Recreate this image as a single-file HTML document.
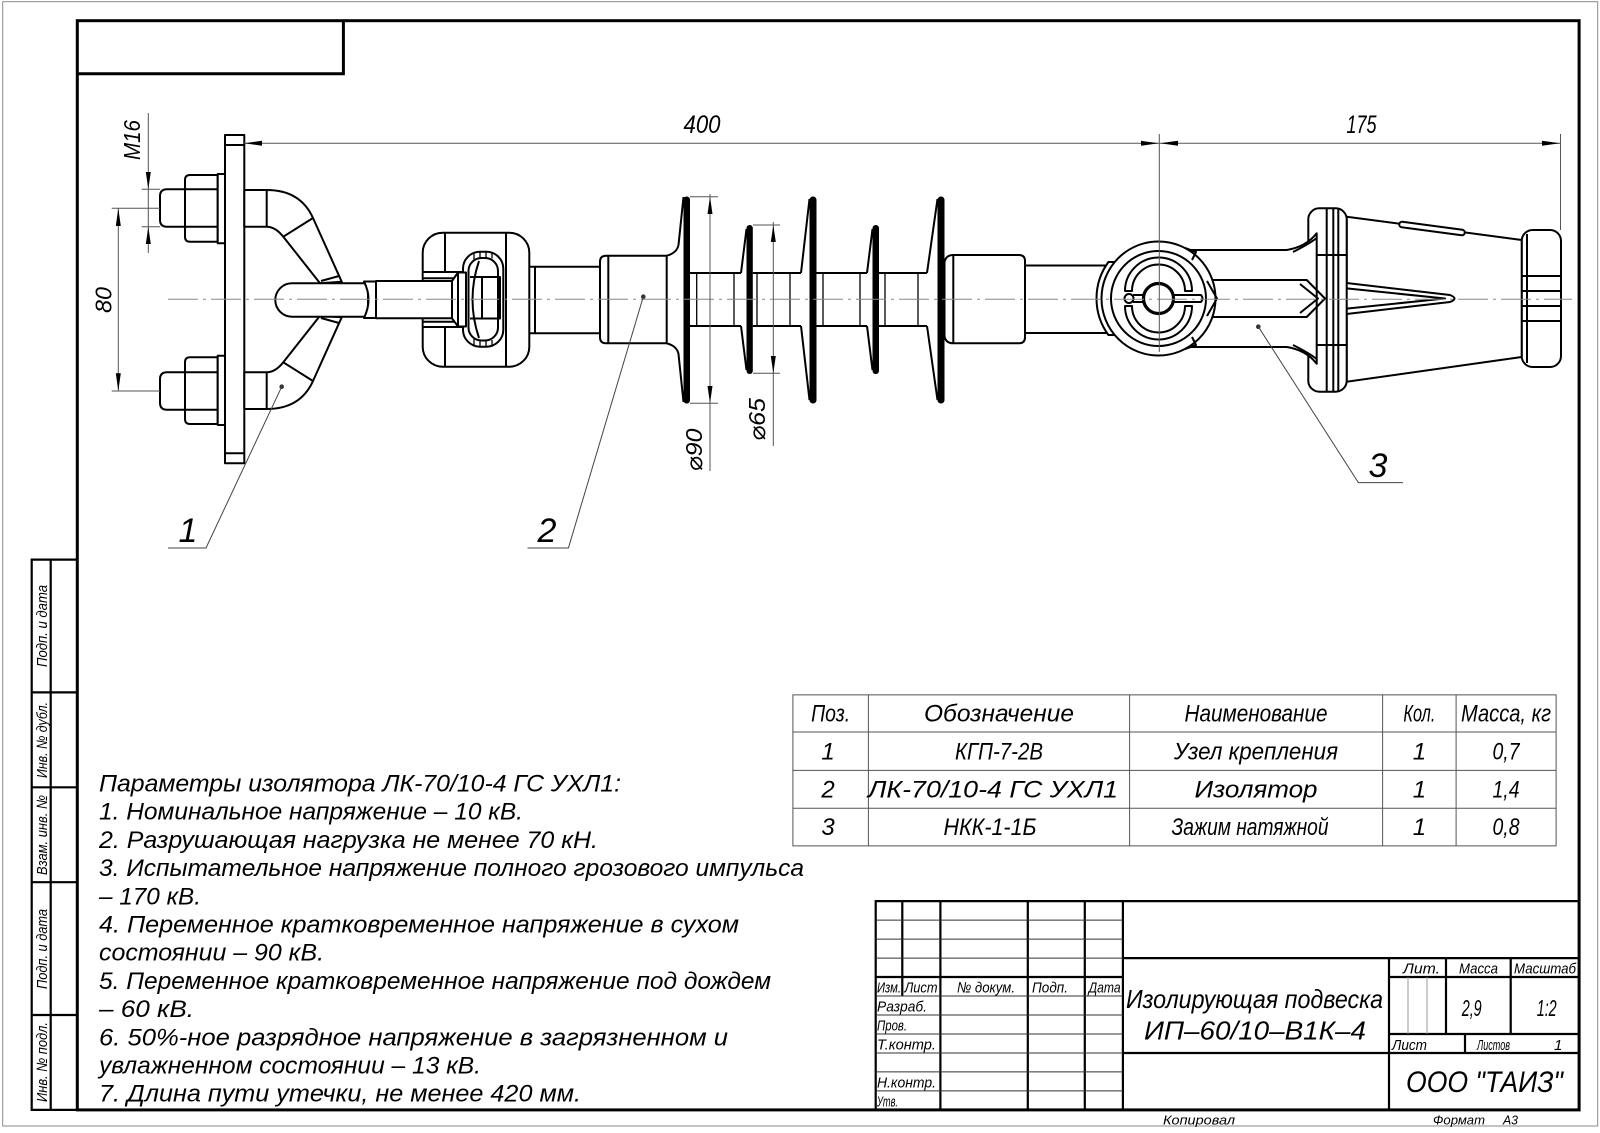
<!DOCTYPE html>
<html><head><meta charset="utf-8"><style>
html,body{margin:0;padding:0;background:#fff;}
svg{display:block;}
text{font-family:"Liberation Sans","DejaVu Sans",sans-serif;font-style:italic;fill:#000;}
.m{fill:#fff;stroke:#000;stroke-width:2;stroke-linejoin:round;}
.n{fill:none;stroke:#000;stroke-width:2;stroke-linejoin:round;}
.k{fill:none;stroke:#000;stroke-width:1.3;}
.t{fill:none;stroke:#555;stroke-width:1;}
.a{fill:#000;stroke:none;}
</style></head><body>
<svg width="1600" height="1133" viewBox="0 0 1600 1133" xmlns="http://www.w3.org/2000/svg">
<rect x="0" y="0" width="1600" height="1133" fill="#fff"/>
<!-- outer sheet border -->
<rect x="2.7" y="1.7" width="1595" height="1124.3" fill="none" stroke="#8a8a8a" stroke-width="1"/>
<!-- frame -->
<rect x="77.3" y="20.7" width="1501.8" height="1089.2" fill="none" stroke="#000" stroke-width="3"/>
<path d="M77.3,73.8 H343.4 V20.7" fill="none" stroke="#000" stroke-width="3"/>
<!-- left strip -->
<path d="M77.3,559.6 H31.7 V1109.9 H77.3 M50.7,559.6 V1109.9 M31.7,692.4 H77.3 M31.7,787.3 H77.3 M31.7,882.2 H77.3 M31.7,1015 H77.3" fill="none" stroke="#000" stroke-width="2.2"/>
<g font-size="15">
<text x="47" y="626" transform="rotate(-90 47 626)" text-anchor="middle" textLength="82" lengthAdjust="spacingAndGlyphs">Подп. и дата</text>
<text x="47" y="740" transform="rotate(-90 47 740)" text-anchor="middle" textLength="76" lengthAdjust="spacingAndGlyphs">Инв. № дубл.</text>
<text x="47" y="835" transform="rotate(-90 47 835)" text-anchor="middle" textLength="80" lengthAdjust="spacingAndGlyphs">Взам. инв. №</text>
<text x="47" y="949" transform="rotate(-90 47 949)" text-anchor="middle" textLength="80" lengthAdjust="spacingAndGlyphs">Подп. и дата</text>
<text x="47" y="1062" transform="rotate(-90 47 1062)" text-anchor="middle" textLength="80" lengthAdjust="spacingAndGlyphs">Инв. № подл.</text>
</g>

<!-- title block -->
<path d="M875.7,1109.9 V901.1 H1579.1 M902.3,901.1 V996 M940.4,901.1 V1109.9 M1027.8,901.1 V1109.9 M1084.8,901.1 V1109.9 M1122.9,901.1 V1109.9 M875.7,977 H1122.9 M1122.9,958.1 H1579.1 M1122.9,1053 H1579.1 M1389,958.1 V1109.9 M1389,977 H1579.1 M1389,1034 H1579.1 M1446,958.1 V1034 M1510.7,958.1 V1034 M1465,1034 V1053" fill="none" stroke="#000" stroke-width="2.2"/>
<path d="M875.7,920.1 H1122.9 M875.7,939.1 H1122.9 M875.7,958.1 H1122.9 M875.7,996 H1122.9 M875.7,1015 H1122.9 M875.7,1034 H1122.9 M875.7,1053 H1122.9 M875.7,1071.9 H1122.9 M875.7,1090.9 H1122.9" fill="none" stroke="#333" stroke-width="1"/>
<path d="M1408,977 V1034 M1427,977 V1034" fill="none" stroke="#999" stroke-width="1"/>
<g font-size="15">
<text x="877" y="992.5" textLength="24" lengthAdjust="spacingAndGlyphs">Изм.</text>
<text x="904.5" y="992.5" textLength="33" lengthAdjust="spacingAndGlyphs">Лист</text>
<text x="957" y="992.5" textLength="58" lengthAdjust="spacingAndGlyphs">№ докум.</text>
<text x="1032" y="992.5" textLength="36" lengthAdjust="spacingAndGlyphs">Подп.</text>
<text x="1088.6" y="992.5" textLength="32" lengthAdjust="spacingAndGlyphs">Дата</text>
<text x="877" y="1011.5" textLength="50" lengthAdjust="spacingAndGlyphs">Разраб.</text>
<text x="877" y="1030.5" textLength="30" lengthAdjust="spacingAndGlyphs">Пров.</text>
<text x="877" y="1049.5" textLength="59" lengthAdjust="spacingAndGlyphs">Т.контр.</text>
<text x="877" y="1087.5" textLength="59" lengthAdjust="spacingAndGlyphs">Н.контр.</text>
<text x="877" y="1106.5" textLength="21" lengthAdjust="spacingAndGlyphs">Утв.</text>
<text x="1403" y="973.5" textLength="37" lengthAdjust="spacingAndGlyphs">Лит.</text>
<text x="1459" y="973.5" textLength="39" lengthAdjust="spacingAndGlyphs">Масса</text>
<text x="1514" y="973.5" textLength="62" lengthAdjust="spacingAndGlyphs">Масштаб</text>
<text x="1392" y="1050" textLength="35" lengthAdjust="spacingAndGlyphs">Лист</text>
<text x="1477" y="1050" textLength="33" lengthAdjust="spacingAndGlyphs">Листов</text>
<text x="1554" y="1050">1</text>
</g>
<text x="1126" y="1008" font-size="26" textLength="257" lengthAdjust="spacingAndGlyphs">Изолирующая подвеска</text>
<text x="1144" y="1039.5" font-size="26" textLength="222" lengthAdjust="spacingAndGlyphs">ИП–60/10–В1К–4</text>
<text x="1461.7" y="1016" font-size="23" textLength="20" lengthAdjust="spacingAndGlyphs">2,9</text>
<text x="1536.7" y="1016" font-size="23" textLength="20" lengthAdjust="spacingAndGlyphs">1:2</text>
<text x="1406" y="1092" font-size="30" textLength="157" lengthAdjust="spacingAndGlyphs">ООО "ТАИЗ"</text>
<g font-size="13">
<text x="1163" y="1124.5" textLength="72" lengthAdjust="spacingAndGlyphs">Копировал</text>
<text x="1433" y="1124.5" textLength="52" lengthAdjust="spacingAndGlyphs">Формат</text>
<text x="1503" y="1124.5" textLength="15" lengthAdjust="spacingAndGlyphs">А3</text>
</g>

<!-- parts table -->
<path d="M792.9,694.9 H1556.1 V845.9 H792.9 Z M792.9,732 H1556.1 M792.9,770.4 H1556.1 M792.9,808.2 H1556.1 M868.4,694.9 V845.9 M1129.6,694.9 V845.9 M1382.6,694.9 V845.9 M1456.1,694.9 V845.9" fill="none" stroke="#555" stroke-width="1"/>
<g font-size="24" text-anchor="middle">
<text x="830.6" y="721.5" textLength="39" lengthAdjust="spacingAndGlyphs">Поз.</text>
<text x="999" y="721.5" textLength="150" lengthAdjust="spacingAndGlyphs">Обозначение</text>
<text x="1256" y="721.5" textLength="143" lengthAdjust="spacingAndGlyphs">Наименование</text>
<text x="1419.4" y="721.5" textLength="32" lengthAdjust="spacingAndGlyphs">Кол.</text>
<text x="1506" y="721.5" textLength="90" lengthAdjust="spacingAndGlyphs">Масса, кг</text>
<text x="828" y="759.5">1</text>
<text x="999" y="759.5" textLength="88" lengthAdjust="spacingAndGlyphs">КГП-7-2В</text>
<text x="1256" y="759.5" textLength="164" lengthAdjust="spacingAndGlyphs">Узел крепления</text>
<text x="1419.4" y="759.5">1</text>
<text x="1506" y="759.5" textLength="27" lengthAdjust="spacingAndGlyphs">0,7</text>
<text x="828" y="797.5">2</text>
<text x="993" y="797.5" textLength="250" lengthAdjust="spacingAndGlyphs">ЛК-70/10-4 ГС УХЛ1</text>
<text x="1256" y="797.5" textLength="123" lengthAdjust="spacingAndGlyphs">Изолятор</text>
<text x="1419.4" y="797.5">1</text>
<text x="1506" y="797.5" textLength="27" lengthAdjust="spacingAndGlyphs">1,4</text>
<text x="828" y="835">3</text>
<text x="990" y="835" textLength="93" lengthAdjust="spacingAndGlyphs">НКК-1-1Б</text>
<text x="1250" y="835" textLength="157" lengthAdjust="spacingAndGlyphs">Зажим натяжной</text>
<text x="1419.4" y="835">1</text>
<text x="1506" y="835" textLength="27" lengthAdjust="spacingAndGlyphs">0,8</text>
</g>

<!-- notes -->
<g font-size="24">
<text x="99" y="791.5" textLength="522" lengthAdjust="spacingAndGlyphs">Параметры изолятора ЛК-70/10-4 ГС УХЛ1:</text>
<text x="99" y="819.7" textLength="424" lengthAdjust="spacingAndGlyphs">1. Номинальное напряжение – 10 кВ.</text>
<text x="99" y="847.9" textLength="499" lengthAdjust="spacingAndGlyphs">2. Разрушающая нагрузка не менее 70 кН.</text>
<text x="99" y="876.1" textLength="705" lengthAdjust="spacingAndGlyphs">3. Испытательное напряжение полного грозового импульса</text>
<text x="99" y="904.3" textLength="102" lengthAdjust="spacingAndGlyphs">– 170 кВ.</text>
<text x="99" y="932.5" textLength="640" lengthAdjust="spacingAndGlyphs">4. Переменное кратковременное напряжение  в сухом</text>
<text x="99" y="960.7" textLength="225" lengthAdjust="spacingAndGlyphs">состоянии – 90 кВ.</text>
<text x="99" y="988.9" textLength="672" lengthAdjust="spacingAndGlyphs">5. Переменное кратковременное напряжение под дождем</text>
<text x="99" y="1017.1" textLength="95" lengthAdjust="spacingAndGlyphs">– 60 кВ.</text>
<text x="99" y="1045.3" textLength="629" lengthAdjust="spacingAndGlyphs">6. 50%-ное разрядное напряжение в загрязненном и</text>
<text x="99" y="1073.5" textLength="382" lengthAdjust="spacingAndGlyphs">увлажненном состоянии – 13 кВ.</text>
<text x="99" y="1101.7" textLength="482" lengthAdjust="spacingAndGlyphs">7. Длина пути утечки, не менее 420 мм.</text>
</g>

<!-- ===== DRAWING ===== -->
<!-- left attachment: bolts, nuts, washers, plate -->
<path class="m" d="M185,189.3 H167 Q160,189.3 160,196.3 V219.7 Q160,226.7 167,226.7 H185 Z"/>
<path class="m" d="M185,372.3 H167 Q160,372.3 160,379.3 V402.7 Q160,409.7 167,409.7 H185 Z"/>
<path class="m" d="M217.7,175 H190 Q185,175 185,180 V236.7 Q185,241.7 190,241.7 H217.7 Z"/>
<path class="n" d="M185,189.3 H217.7 M185,226.7 H217.7"/>
<path class="m" d="M217.7,357.3 H190 Q185,357.3 185,362.3 V419 Q185,424 190,424 H217.7 Z"/>
<path class="n" d="M185,372.3 H217.7 M185,409.7 H217.7"/>
<rect class="m" x="217.7" y="174" width="7.3" height="69.3"/>
<rect class="m" x="217.7" y="355.7" width="7.3" height="69.3"/>
<rect class="m" x="225" y="135" width="19.3" height="328.3"/>
<path class="n" d="M225,145 H244.3 M225,453.3 H244.3"/>
<!-- bracket arms -->
<path class="m" d="M244.3,190 L266.7,190 Q300.4,190 313,218 L341.7,281.7 L320,283.3 L283.3,236.7 Q275.4,226.7 266.7,226.7 L244.3,226.7 Z"/>
<path class="n" d="M266.7,190 V226.7 M283.3,236.7 L313,218 M321,281 L339,276"/>
<path class="m" d="M244.3,409 L266.7,409 Q300.4,409 313,381 L341.7,317.3 L320,315.7 L283.3,362.3 Q275.4,372.3 266.7,372.3 L244.3,372.3 Z"/>
<path class="n" d="M266.7,409 V372.3 M283.3,362.3 L313,381 M321,318 L339,323"/>
<circle cx="281.7" cy="386.7" r="2.3" fill="#333"/>
<!-- eye bolt -->
<path class="m" d="M292,283.3 H368 V316.7 H292 A16.7,16.7 0 0 1 292,283.3 Z"/>
<!-- left neck -->
<rect class="m" x="525" y="266.7" width="75" height="66.6"/>
<path class="n" d="M535,266.7 V333.3"/>
<!-- socket -->
<rect class="m" x="422.7" y="232.7" width="106.6" height="134" rx="20"/>
<path class="n" d="M445,233 V272 M445,327 V366.7 M506,233 V366.7"/>
<rect x="423.8" y="272" width="40" height="55" fill="#fff"/>
<path class="n" d="M423.5,272 H463 M423.5,278.3 H458 M423.5,321.7 H458 M423.5,327 H463"/>
<rect class="m" x="463" y="251.7" width="40.3" height="95" rx="17"/>
<rect class="n" x="468.5" y="258" width="29.5" height="82.5" rx="13"/>
<path class="k" d="M474,253 V259.5 M480,252 V258.5 M486,252 V258.5 M492,252 V258.5 M474,339 V345.5 M480,340 V346.5 M486,340 V346.5 M492,340 V346.5"/>
<rect class="n" x="482" y="277" width="18" height="41.5"/>
<path class="n" d="M479,261 Q466,299.5 479,338 M470,277 H482 M470,318.5 H482"/>
<!-- joint and rod -->
<path class="m" d="M364,281.5 Q373,299.5 364,318 H376 Q384,299.5 376,281.5 Z"/>
<rect class="m" x="376" y="281" width="76" height="37.3"/>
<path class="m" d="M452,281 L458,272.5 H466 V326.5 H458 L452,318.3 Z"/>
<path class="n" d="M458,272.5 V326.5"/>
<!-- left fitting -->
<path class="m" d="M606,255.7 H666.7 V343.3 H606 Q600,343.3 600,337.3 V261.7 Q600,255.7 606,255.7 Z"/>
<path class="n" d="M608.3,255.7 V343.3"/>
<path class="n" d="M666.7,255.7 Q677,253 678.5,245 L683.5,197 M666.7,343.3 Q677,346 678.5,354 L683.5,402"/>
<circle cx="643.3" cy="296.7" r="2.3" fill="#333"/>
<!-- cores -->
<path class="n" d="M690,273 Q695,273 697,273 H741 M690,326 H741 M752.8,273 H801 M752.8,326 H801 M816.5,273 H867 M816.5,326 H867 M879,273 H927 M879,326 H927"/>
<path class="k" d="M696.7,273 V326 M734,273 V326 M757,273 V326 M790,273 V326 M823,273 V326 M860,273 V326 M885,273 V326 M918,273 V326"/>
<!-- shed slopes -->
<path class="n" d="M741,273 L746.5,229 M741,326 L746.5,370 M801,273 L809.5,199 M801,326 L809.5,400 M867,273 L872.5,229 M867,326 L872.5,370 M927,273 L937.5,199 M927,326 L937.5,400"/>
<!-- shed rims -->
<rect class="a" x="683.5" y="196.5" width="6.5" height="207" rx="3.2"/>
<rect class="a" x="746.5" y="225" width="6.3" height="149" rx="3.1"/>
<rect class="a" x="809.5" y="196.5" width="7" height="207" rx="3.4"/>
<rect class="a" x="872.5" y="225" width="6.5" height="149" rx="3.2"/>
<rect class="a" x="937.5" y="196.5" width="7" height="207" rx="3.4"/>
<!-- right fitting and neck -->
<path class="m" d="M1025,265.5 H1110 V333 H1025 Z"/>
<path class="m" d="M944.5,262 Q946,255 953.3,255 H1019 Q1025,255 1025,261 V337.3 Q1025,343.3 1019,343.3 H953.3 Q946,343.3 944.5,336.5 Z"/>
<path class="n" d="M953.3,255 V343.3"/>

<!-- clamp -->
<rect class="m" x="1521.7" y="230" width="39.3" height="137" rx="11"/>
<path class="n" d="M1527,234 V363 M1521.7,276 H1561 M1521.7,291 H1561 M1521.7,306 H1561 M1521.7,321 H1561"/>
<path class="m" d="M1346.7,216.7 L1521.7,240 L1521.7,357 L1346.7,381.7 Z"/>
<line x1="1402" y1="224.5" x2="1462" y2="232.5" stroke="#000" stroke-width="7.5" stroke-linecap="round"/>
<line x1="1402" y1="224.5" x2="1462" y2="232.5" stroke="#fff" stroke-width="3.5" stroke-linecap="round"/>
<path class="m" d="M1338,282 L1450,295 Q1459,298.5 1450,302 L1338,315 Z"/>
<path class="n" d="M1338,287.5 L1445,298.5 L1338,309.5"/>
<rect class="m" x="1308.3" y="208.3" width="38.4" height="183.4" rx="11"/>
<path class="n" d="M1326.7,209 V391 M1333.3,209 V391 M1338.3,209 V391 M1308.3,255 H1346.7 M1308.3,345 H1346.7"/>
<path class="m" d="M1190,250 H1286.7 Q1306,247 1316.7,233.3 V363.7 Q1306,350 1286.7,347 H1190 Z"/>
<path class="n" d="M1293,252 Q1309,244 1316.7,238 M1293,345 Q1309,353 1316.7,359"/>
<path class="n" d="M1205,280 H1306.7 L1325,298.5 L1306.7,317 H1205 M1300,284 L1318,298.5 L1300,313"/>
<circle cx="1258.3" cy="326.7" r="2.3" fill="#333"/>
<!-- collar & ring -->
<path class="m" d="M1114,262 H1108.4 A62,62 0 0 0 1108.4,335 H1114 Z"/>
<circle class="m" cx="1158.5" cy="298.5" r="57"/>
<circle class="n" cx="1158.5" cy="298.5" r="47.5"/>
<path class="n" d="M1125,291 A33.5,33.5 0 0 1 1192,291 L1185,291 A26.5,26.5 0 0 0 1132,291 Z"/>
<path class="n" d="M1125,306 A33.5,33.5 0 0 0 1192,306 L1185,306 A26.5,26.5 0 0 1 1132,306 Z"/>
<path class="n" d="M1185,248 L1196,252 L1192,260 M1185,349 L1196,345 L1192,337"/>
<path class="n" d="M1207,281 L1217,298.5 L1207,316"/>
<path class="m" d="M1173,295 H1201 Q1204,298.5 1201,302 H1173 Z"/>
<circle class="n" cx="1129" cy="298.5" r="4.5"/>
<path class="n" d="M1133,295 H1143 M1133,302 H1143"/>
<circle cx="1158.5" cy="298.5" r="15" fill="#fff" stroke="#000" stroke-width="3.2"/>

<!-- centerline -->
<path d="M168,299.3 H1572" fill="none" stroke="#888" stroke-width="1" stroke-dasharray="30 5 3 5"/>

<!-- dimensions -->
<path class="t" d="M244.3,143.3 H1560 M1159.3,134 V352 M1560.5,134 V230"/>
<polygon class="a" points="244.3,143.3 262,140.8 262,145.8"/>
<polygon class="a" points="1158.8,143.3 1141,140.8 1141,145.8"/>
<polygon class="a" points="1160,143.3 1178,140.8 1178,145.8"/>
<polygon class="a" points="1560,143.3 1542,140.8 1542,145.8"/>
<text x="702" y="133" font-size="25" text-anchor="middle" textLength="37" lengthAdjust="spacingAndGlyphs">400</text>
<text x="1361.5" y="133" font-size="25" text-anchor="middle" textLength="30" lengthAdjust="spacingAndGlyphs">175</text>
<!-- M16 -->
<path class="t" d="M148.3,113 V253 M141.7,189.3 H160 M141.7,226.7 H160"/>
<polygon class="a" points="148.3,189.3 145.8,172 150.8,172"/>
<polygon class="a" points="148.3,226.7 145.8,244 150.8,244"/>
<text x="140" y="140" font-size="23" transform="rotate(-90 140 140)" text-anchor="middle" textLength="40" lengthAdjust="spacingAndGlyphs">M16</text>
<!-- 80 -->
<path class="t" d="M118.3,208.3 V391 M111.7,208.3 H160 M111.7,391 H160"/>
<polygon class="a" points="118.3,208.3 115.8,226 120.8,226"/>
<polygon class="a" points="118.3,391 115.8,373.3 120.8,373.3"/>
<text x="111.5" y="300" font-size="23" transform="rotate(-90 111.5 300)" text-anchor="middle" textLength="26" lengthAdjust="spacingAndGlyphs">80</text>
<!-- dia 90 -->
<path class="t" d="M710,194 V471 M690,196.7 H718 M690,403.3 H718"/>
<polygon class="a" points="710,196.7 707.5,214 712.5,214"/>
<polygon class="a" points="710,403.3 707.5,386 712.5,386"/>
<text x="702" y="450" font-size="23" transform="rotate(-90 702 450)" text-anchor="middle" textLength="43" lengthAdjust="spacingAndGlyphs">⌀90</text>
<!-- dia 65 -->
<path class="t" d="M773.3,222 V446 M753,225 H780 M753,373.3 H780"/>
<polygon class="a" points="773.3,225 770.8,242 775.8,242"/>
<polygon class="a" points="773.3,373.3 770.8,356 775.8,356"/>
<text x="765" y="419.5" font-size="23" transform="rotate(-90 765 419.5)" text-anchor="middle" textLength="43" lengthAdjust="spacingAndGlyphs">⌀65</text>

<!-- leaders -->
<path d="M281.7,386.7 L206,548 H168 M643.3,296.7 L568.4,548 H527.5 M1258.3,326.7 L1358.4,482.6 H1403" fill="none" stroke="#444" stroke-width="1"/>
<g font-size="34" text-anchor="middle">
<text x="188" y="542">1</text>
<text x="547" y="542">2</text>
<text x="1378" y="477">3</text>
</g>
</svg>
</body></html>
